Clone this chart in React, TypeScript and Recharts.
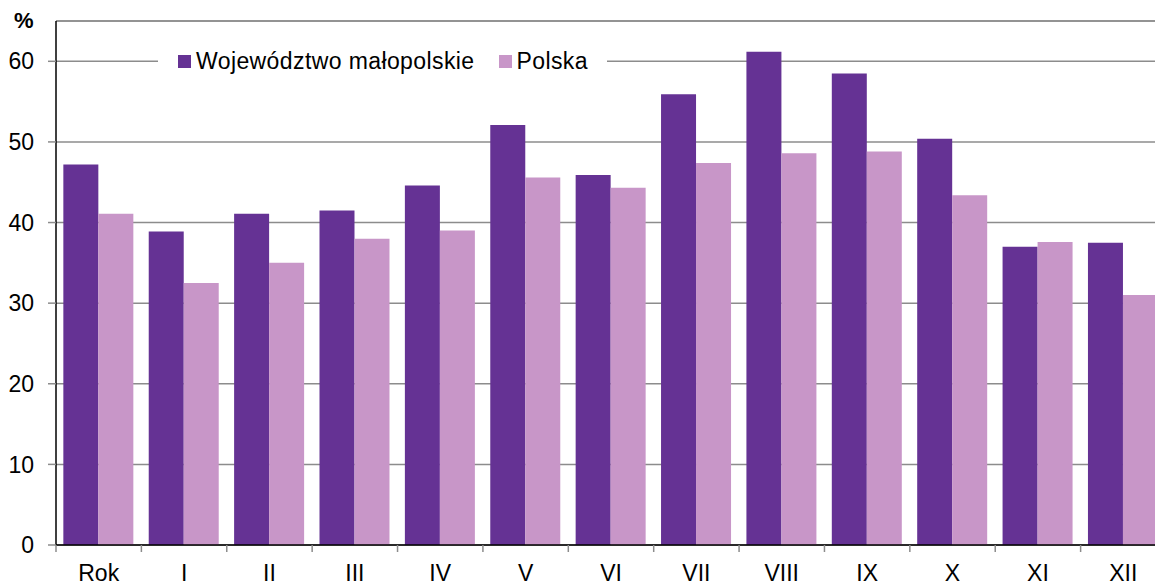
import React from "react";
import {
  BarChart,
  Bar,
  XAxis,
  YAxis,
  CartesianGrid,
  Legend,
  ReferenceLine,
} from "recharts";

const months = ["Rok", "I", "II", "III", "IV", "V", "VI", "VII", "VIII", "IX", "X", "XI", "XII"];
const malopolskie = [47.2, 38.9, 41.1, 41.5, 44.6, 52.1, 45.9, 55.9, 61.2, 58.5, 50.4, 37.0, 37.5];
const polska = [41.1, 32.5, 35.0, 38.0, 39.0, 45.6, 44.3, 47.4, 48.6, 48.8, 43.4, 37.6, 31.0];
const yTicks = [0, 10, 20, 30, 40, 50, 60];
const seriesOrder = ["malopolskie", "polska"];

const PURPLE = "#653294";
const PINK = "#c896c8";
const GRID = "#8c8c8c";
const FONT = "'Liberation Sans', Arial, sans-serif";

const data = months.map((m, i) => ({
  miesiac: m,
  malopolskie: malopolskie[i],
  polska: polska[i],
}));

function MonthTick(props: any) {
  const { x, y, payload } = props;
  const half = payload?.offset ?? 0;
  return (
    <g>
      <line x1={x - half} x2={x - half} y1={y - 20} y2={y - 13} stroke={GRID} strokeWidth={1.5} />
      <text x={x} y={y} dy="0.71em" textAnchor="middle" fill="#000" fontSize={23} fontFamily={FONT}>
        {payload.value}
      </text>
    </g>
  );
}

function LegendBox(props: any) {
  const items = [...(props.payload || [])].sort(
    (a: any, b: any) => seriesOrder.indexOf(a.dataKey) - seriesOrder.indexOf(b.dataKey)
  );
  return (
    <div
      style={{
        display: "flex",
        alignItems: "center",
        background: "#fff",
        height: 40,
        paddingLeft: 20,
        fontFamily: FONT,
        fontSize: 23,
        letterSpacing: 0.4,
        color: "#000",
        whiteSpace: "nowrap",
      }}
    >
      {items.map((it: any) => (
        <div key={it.value} style={{ display: "flex", alignItems: "center", marginRight: 24, flexShrink: 0 }}>
          <span style={{ width: 13, height: 13, background: it.color, display: "inline-block", marginRight: 5, flexShrink: 0 }} />
          <span>{it.value}</span>
        </div>
      ))}
    </div>
  );
}

export default function App() {
  return (
    <div style={{ position: "absolute", left: 0, top: 0, width: 1155, height: 583, overflow: "hidden", background: "#fff" }}>
      <div
        style={{
          position: "absolute",
          left: 14,
          top: 10,
          fontFamily: FONT,
          fontSize: 22,
          lineHeight: "22px",
          fontWeight: "bold",
        }}
      >
        %
      </div>
      <BarChart
        width={1166}
        height={583}
        data={data}
        margin={{ top: 21, right: 0, left: 0, bottom: 0 }}
        barCategoryGap="8.6%"
        barGap={0}
      >
        <CartesianGrid vertical={false} stroke={GRID} strokeWidth={1.5} />
        <ReferenceLine y={65} stroke={GRID} strokeWidth={1.5} />
        <XAxis
          dataKey="miesiac"
          height={38}
          interval={0}
          axisLine={{ stroke: "#000", strokeWidth: 1.5 }}
          tickLine={{ stroke: "none" }}
          tickSize={7}
          tickMargin={13}
          tick={<MonthTick />}
        />
        <YAxis
          width={56}
          domain={[0, 65]}
          ticks={yTicks}
          allowDataOverflow
          axisLine={{ stroke: "#000", strokeWidth: 1.5 }}
          tickLine={{ stroke: GRID, strokeWidth: 1.5 }}
          tickSize={8}
          tickMargin={14}
          tick={{ fill: "#000", fontSize: 23, fontFamily: FONT }}
        />
        <Legend
          layout="horizontal"
          verticalAlign="middle"
          align="center"
          wrapperStyle={{ top: 41, left: 158, width: 449 }}
          content={<LegendBox />}
        />
        <Bar dataKey="malopolskie" name="Województwo małopolskie" fill={PURPLE} isAnimationActive={false} />
        <Bar dataKey="polska" name="Polska" fill={PINK} isAnimationActive={false} />
      </BarChart>
    </div>
  );
}
